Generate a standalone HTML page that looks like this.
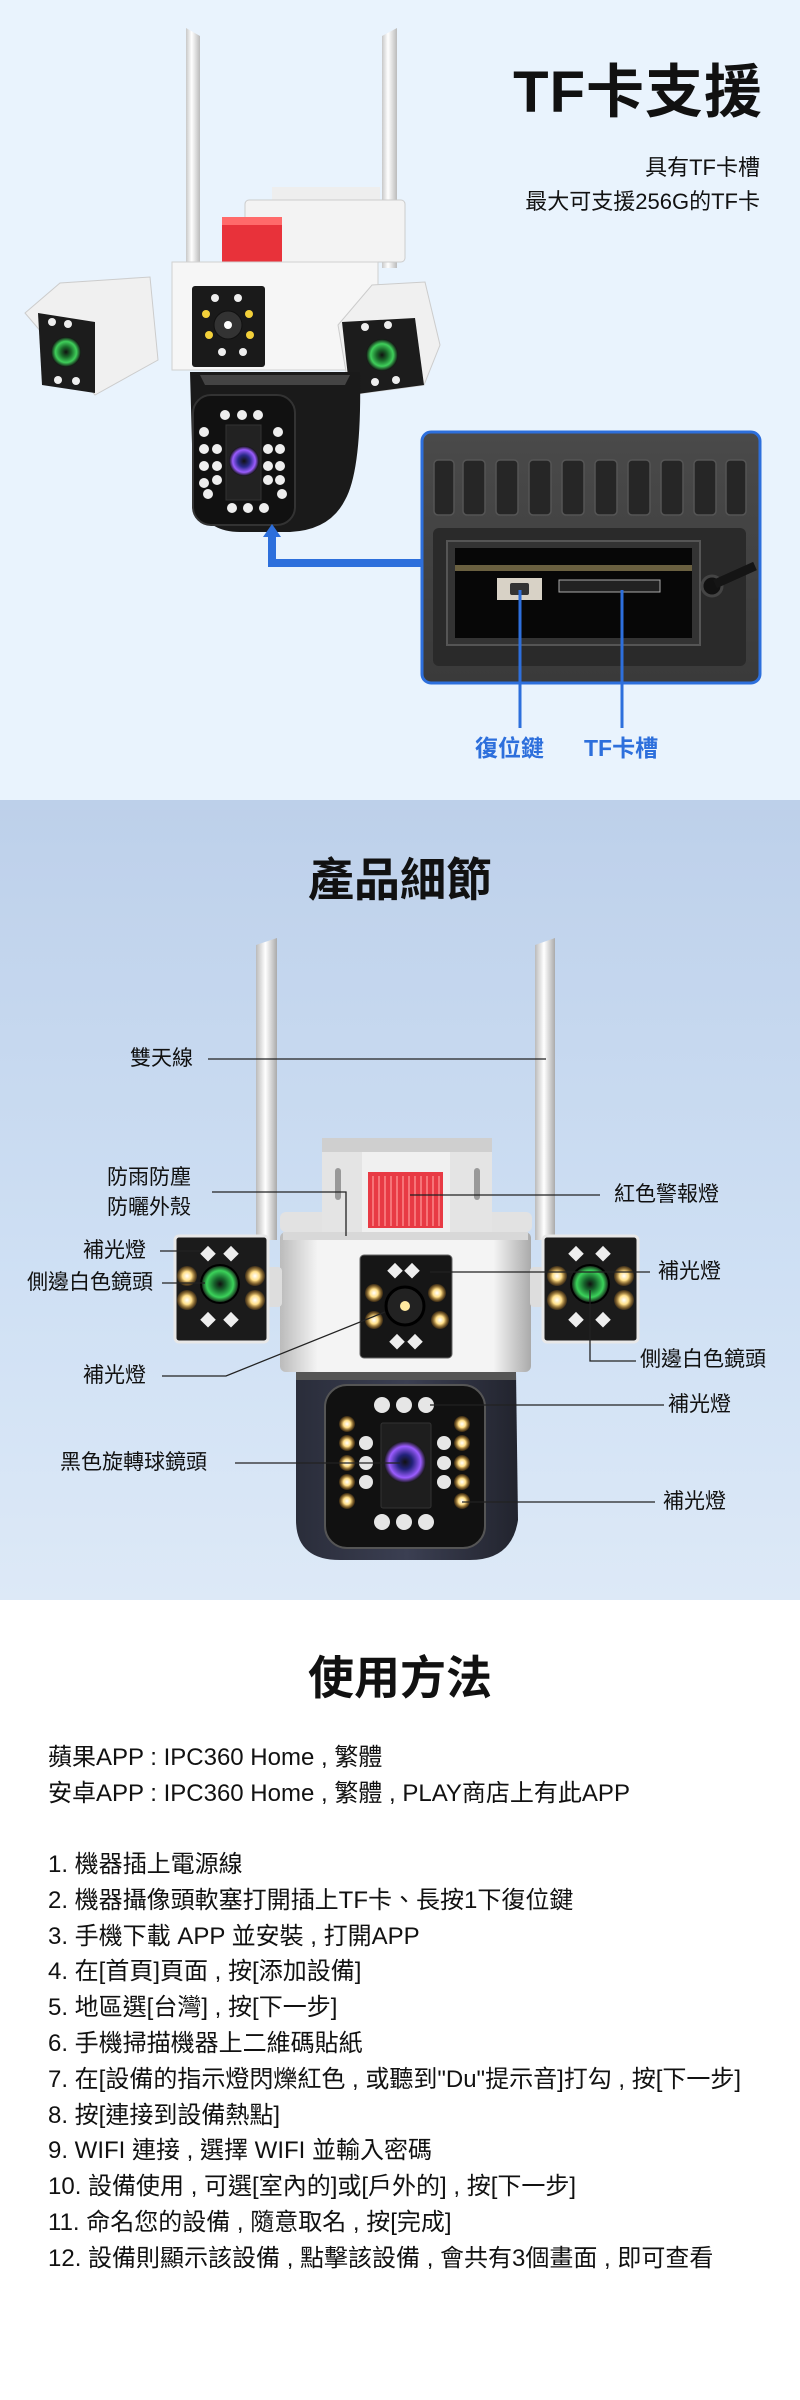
<!DOCTYPE html>
<html><head><meta charset="utf-8">
<style>
*{margin:0;padding:0;box-sizing:border-box}
body{width:800px;height:2400px;overflow:hidden;font-family:"Liberation Sans","Noto Sans CJK TC",sans-serif;color:#111;background:#fff}
.s1{position:absolute;left:0;top:0;width:800px;height:800px;background:#e9f3fd}
.s2{position:absolute;left:0;top:800px;width:800px;height:800px;background:linear-gradient(#bdd0ea,#cfe0f4 60%,#dde9f7)}
.s3{position:absolute;left:0;top:1600px;width:800px;height:800px;background:#fff}
.t{position:absolute;white-space:nowrap}
svg{position:absolute;left:0;top:0}
</style></head><body>

<div class="s1">
<svg width="800" height="800" viewBox="0 0 800 800">
 <defs>
  <linearGradient id="ant" x1="0" x2="1"><stop offset="0" stop-color="#c8c8c8"/><stop offset=".4" stop-color="#fff"/><stop offset="1" stop-color="#bbb"/></linearGradient>
  <linearGradient id="photo" x1="0" y1="0" x2="0" y2="1"><stop offset="0" stop-color="#4a4a4a"/><stop offset="1" stop-color="#3a3a3a"/></linearGradient>
  <radialGradient id="lensG"><stop offset="0" stop-color="#111"/><stop offset=".35" stop-color="#1a6b2a"/><stop offset=".7" stop-color="#3fcf5a"/><stop offset="1" stop-color="#111"/></radialGradient>
  <radialGradient id="lensP"><stop offset="0" stop-color="#111"/><stop offset=".4" stop-color="#2a2a8a"/><stop offset=".75" stop-color="#9a5cff"/><stop offset="1" stop-color="#111"/></radialGradient>
 </defs>
 <path d="M186 28 L200 36 L200 268 L186 268 Z" fill="url(#ant)"/>
 <path d="M382 36 L397 28 L397 268 L382 268 Z" fill="url(#ant)"/>
 <rect x="272" y="187" width="108" height="75" fill="#eee"/>
 <rect x="245" y="200" width="160" height="62" rx="4" fill="#f3f3f3" stroke="#ccc"/>
 <rect x="222" y="217" width="60" height="45" fill="#e8323a"/>
 <rect x="222" y="217" width="60" height="8" fill="#ff6a6a"/>
 <path d="M172 262 L378 262 L378 370 L172 370 Z" fill="#f6f6f6" stroke="#d0d0d0"/>
 <rect x="192" y="286" width="73" height="81" rx="3" fill="#1a1a1a"/>
 <circle cx="228" cy="325" r="14" fill="#333" stroke="#111"/>
 <circle cx="228" cy="325" r="4" fill="#fff"/>
 <g fill="#eee"><circle cx="215" cy="298" r="4"/><circle cx="238" cy="298" r="4"/><circle cx="222" cy="352" r="4"/><circle cx="243" cy="352" r="4"/></g>
 <g fill="#f3d03a"><circle cx="206" cy="314" r="4"/><circle cx="249" cy="314" r="4"/><circle cx="209" cy="335" r="4"/><circle cx="250" cy="335" r="4"/></g>
 <path d="M25 313 L60 283 L150 277 L158 360 L95 395 Z" fill="#f0f0f0" stroke="#ccc"/>
 <path d="M38 313 L95 322 L95 393 L42 385 Z" fill="#1c1c1c"/>
 <circle cx="66" cy="352" r="15" fill="url(#lensG)"/>
 <g fill="#eee"><circle cx="52" cy="322" r="4"/><circle cx="68" cy="324" r="4"/><circle cx="58" cy="380" r="4"/><circle cx="76" cy="381" r="4"/></g>
 <path d="M338 325 L372 285 L425 282 L440 345 L424 385 L350 395 Z" fill="#f0f0f0" stroke="#ccc"/>
 <path d="M342 322 L415 318 L424 385 L350 395 Z" fill="#1c1c1c"/>
 <circle cx="382" cy="355" r="16" fill="url(#lensG)"/>
 <g fill="#eee"><circle cx="365" cy="327" r="4"/><circle cx="388" cy="325" r="4"/><circle cx="375" cy="382" r="4"/><circle cx="396" cy="380" r="4"/></g>
 <path d="M190 372 L360 372 Q362 470 345 500 Q330 530 290 532 L240 532 Q195 532 193 480 Z" fill="#1a1a1a"/>
 <path d="M200 375 L350 375 L345 385 L205 385 Z" fill="#444"/>
 <rect x="193" y="395" width="102" height="130" rx="18" fill="#111" stroke="#333" stroke-width="2"/>
 <rect x="226" y="425" width="35" height="75" fill="#222" stroke="#333"/>
 <circle cx="244" cy="461" r="15" fill="url(#lensP)"/>
 <g fill="#eee">
  <circle cx="225" cy="415" r="5"/><circle cx="242" cy="415" r="5"/><circle cx="258" cy="415" r="5"/>
  <circle cx="232" cy="508" r="5"/><circle cx="248" cy="508" r="5"/><circle cx="264" cy="508" r="5"/>
  <circle cx="204" cy="432" r="5"/><circle cx="204" cy="449" r="5"/><circle cx="204" cy="466" r="5"/><circle cx="204" cy="483" r="5"/><circle cx="208" cy="494" r="5"/>
  <circle cx="217" cy="449" r="5"/><circle cx="217" cy="466" r="5"/><circle cx="217" cy="480" r="5"/>
  <circle cx="278" cy="432" r="5"/><circle cx="280" cy="449" r="5"/><circle cx="280" cy="466" r="5"/><circle cx="280" cy="480" r="5"/><circle cx="282" cy="494" r="5"/>
  <circle cx="268" cy="449" r="5"/><circle cx="268" cy="466" r="5"/><circle cx="268" cy="480" r="5"/>
 </g>
 <path d="M424 563 L272 563 L272 535" fill="none" stroke="#2d6fdc" stroke-width="8"/>
 <path d="M263 537 L272 524 L281 537 Z" fill="#2d6fdc"/>
 <rect x="422" y="432" width="338" height="251" rx="9" fill="url(#photo)" stroke="#2d6fdc" stroke-width="3"/>
 <g fill="#262626" stroke="#555" stroke-width="1.5">
  <rect x="434" y="460" width="20" height="55" rx="4"/><rect x="463" y="460" width="22" height="55" rx="4"/><rect x="496" y="460" width="22" height="55" rx="4"/><rect x="529" y="460" width="22" height="55" rx="4"/><rect x="562" y="460" width="22" height="55" rx="4"/><rect x="595" y="460" width="22" height="55" rx="4"/><rect x="628" y="460" width="22" height="55" rx="4"/><rect x="661" y="460" width="22" height="55" rx="4"/><rect x="694" y="460" width="22" height="55" rx="4"/><rect x="726" y="460" width="20" height="55" rx="4"/>
 </g>
 <rect x="433" y="528" width="313" height="138" rx="6" fill="#2a2a2a"/>
 <rect x="447" y="541" width="253" height="104" fill="#333" stroke="#555" stroke-width="2"/>
 <rect x="455" y="548" width="237" height="90" fill="#070707"/>
 <rect x="455" y="565" width="237" height="6" fill="#6a6040"/>
 <rect x="497" y="578" width="45" height="22" fill="#d8d2c6"/>
 <rect x="510" y="583" width="19" height="12" rx="2" fill="#333"/>
 <rect x="559" y="580" width="101" height="12" fill="#222" stroke="#aaa"/>
 <circle cx="712" cy="586" r="10" fill="#111" stroke="#444" stroke-width="3"/>
 <path d="M715 584 L755 566" stroke="#151515" stroke-width="9"/>
 <line x1="520" y1="590" x2="520" y2="728" stroke="#2d6fdc" stroke-width="3"/>
 <line x1="622" y1="590" x2="622" y2="728" stroke="#2d6fdc" stroke-width="3"/>
</svg>
 <div class="t" style="right:37px;top:58px;font-size:58px;font-weight:bold;letter-spacing:1px;line-height:70px">TF卡支援</div>
 <div class="t" style="right:40px;top:153px;font-size:22px;line-height:30px">具有TF卡槽</div>
 <div class="t" style="right:40px;top:187px;font-size:22px;line-height:30px">最大可支援256G的TF卡</div>
 <div class="t" style="left:475px;top:733px;font-size:23px;font-weight:bold;color:#2d6fdc;line-height:30px">復位鍵</div>
 <div class="t" style="left:584px;top:733px;font-size:23px;font-weight:bold;color:#2d6fdc;line-height:30px">TF卡槽</div>
</div>

<div class="s2">
<svg width="800" height="800" viewBox="0 800 800 800">
 <defs>
  <linearGradient id="ant2" x1="0" x2="1"><stop offset="0" stop-color="#bbb"/><stop offset=".45" stop-color="#fff"/><stop offset="1" stop-color="#aaa"/></linearGradient>
  <linearGradient id="body2" x1="0" x2="1"><stop offset="0" stop-color="#bbb"/><stop offset=".15" stop-color="#f4f4f4"/><stop offset=".85" stop-color="#f4f4f4"/><stop offset="1" stop-color="#aaa"/></linearGradient>
  <linearGradient id="dark2" x1="0" x2="1"><stop offset="0" stop-color="#2a2d3a"/><stop offset=".5" stop-color="#3b3f52"/><stop offset="1" stop-color="#22242e"/></linearGradient>
  <radialGradient id="glow"><stop offset="0" stop-color="#fff"/><stop offset=".45" stop-color="#ffe08a"/><stop offset="1" stop-color="#c8821a" stop-opacity=".2"/></radialGradient>
  <radialGradient id="lensG2"><stop offset="0" stop-color="#111"/><stop offset=".3" stop-color="#16602a"/><stop offset=".7" stop-color="#3bd35a"/><stop offset="1" stop-color="#111"/></radialGradient>
  <radialGradient id="lensP2"><stop offset="0" stop-color="#111"/><stop offset=".35" stop-color="#22227a"/><stop offset=".75" stop-color="#9b5cff"/><stop offset="1" stop-color="#151515"/></radialGradient>
 </defs>
 <path d="M256 945 L277 938 L277 1240 L256 1240 Z" fill="url(#ant2)"/>
 <path d="M535 945 L555 938 L555 1240 L535 1240 Z" fill="url(#ant2)"/>
 <rect x="280" y="1212" width="50" height="20" rx="6" fill="#e2e2e2"/>
 <rect x="482" y="1212" width="50" height="20" rx="6" fill="#e2e2e2"/>
 <rect x="322" y="1138" width="170" height="100" fill="#e4e4e4"/>
 <rect x="322" y="1138" width="170" height="14" fill="#cfcfcf"/>
 <rect x="362" y="1152" width="88" height="86" fill="#f0f0f0"/>
 <rect x="368" y="1172" width="75" height="56" fill="#e83a44"/>
 <g stroke="#ff9a9a" stroke-width="1.2">
  <line x1="373" y1="1176" x2="373" y2="1226"/><line x1="379" y1="1176" x2="379" y2="1226"/><line x1="385" y1="1176" x2="385" y2="1226"/><line x1="391" y1="1176" x2="391" y2="1226"/><line x1="397" y1="1176" x2="397" y2="1226"/><line x1="403" y1="1176" x2="403" y2="1226"/><line x1="409" y1="1176" x2="409" y2="1226"/><line x1="415" y1="1176" x2="415" y2="1226"/><line x1="421" y1="1176" x2="421" y2="1226"/><line x1="427" y1="1176" x2="427" y2="1226"/><line x1="433" y1="1176" x2="433" y2="1226"/><line x1="439" y1="1176" x2="439" y2="1226"/>
 </g>
 <rect x="335" y="1168" width="6" height="32" rx="3" fill="#999"/>
 <rect x="474" y="1168" width="6" height="32" rx="3" fill="#999"/>
 <rect x="280" y="1232" width="251" height="140" rx="6" fill="url(#body2)"/>
 <rect x="283" y="1232" width="245" height="8" fill="#d8d8d8"/>
 <rect x="360" y="1255" width="92" height="103" rx="4" fill="#161616" stroke="#666"/>
 <circle cx="405" cy="1306" r="19" fill="#222" stroke="#000" stroke-width="3"/>
 <circle cx="405" cy="1306" r="5" fill="#ffe9a0"/>
 <g fill="url(#glow)"><circle cx="374" cy="1293" r="9"/><circle cx="437" cy="1293" r="9"/><circle cx="374" cy="1320" r="9"/><circle cx="440" cy="1320" r="9"/></g>
 <g fill="#eee"><rect x="390" y="1265" width="11" height="11" transform="rotate(45 395 1270)"/><rect x="407" y="1265" width="11" height="11" transform="rotate(45 412 1270)"/><rect x="392" y="1336" width="11" height="11" transform="rotate(45 397 1341)"/><rect x="410" y="1336" width="11" height="11" transform="rotate(45 415 1341)"/></g>
 <rect x="266" y="1267" width="16" height="40" rx="4" fill="#ddd"/>
 <rect x="530" y="1267" width="16" height="40" rx="4" fill="#ddd"/>
 <rect x="175" y="1236" width="93" height="106" rx="4" fill="#1b1b1b" stroke="#e8e8e8" stroke-width="3"/>
 <circle cx="220" cy="1284" r="19" fill="url(#lensG2)" stroke="#000" stroke-width="2"/>
 <g fill="url(#glow)"><circle cx="187" cy="1276" r="10"/><circle cx="255" cy="1276" r="10"/><circle cx="187" cy="1300" r="10"/><circle cx="255" cy="1300" r="10"/></g>
 <g fill="#eee"><rect x="203" y="1248" width="11" height="11" transform="rotate(45 208 1253)"/><rect x="226" y="1248" width="11" height="11" transform="rotate(45 231 1253)"/><rect x="203" y="1314" width="11" height="11" transform="rotate(45 208 1319)"/><rect x="226" y="1314" width="11" height="11" transform="rotate(45 231 1319)"/></g>
 <rect x="543" y="1236" width="95" height="106" rx="4" fill="#1b1b1b" stroke="#e8e8e8" stroke-width="3"/>
 <circle cx="590" cy="1284" r="19" fill="url(#lensG2)" stroke="#000" stroke-width="2"/>
 <g fill="url(#glow)"><circle cx="557" cy="1276" r="10"/><circle cx="624" cy="1276" r="10"/><circle cx="557" cy="1300" r="10"/><circle cx="624" cy="1300" r="10"/></g>
 <g fill="#eee"><rect x="571" y="1248" width="11" height="11" transform="rotate(45 576 1253)"/><rect x="598" y="1248" width="11" height="11" transform="rotate(45 603 1253)"/><rect x="571" y="1314" width="11" height="11" transform="rotate(45 576 1319)"/><rect x="598" y="1314" width="11" height="11" transform="rotate(45 603 1319)"/></g>
 <path d="M296 1372 L516 1372 L518 1520 Q512 1560 470 1560 L340 1560 Q296 1560 296 1520 Z" fill="url(#dark2)"/>
 <rect x="296" y="1372" width="220" height="8" fill="#555"/>
 <rect x="325" y="1385" width="160" height="163" rx="22" fill="#111" stroke="#555" stroke-width="2"/>
 <rect x="381" y="1423" width="50" height="85" rx="2" fill="#1e1e1e" stroke="#333"/>
 <circle cx="405" cy="1462" r="21" fill="url(#lensP2)"/>
 <g fill="url(#glow)">
  <circle cx="347" cy="1424" r="8"/><circle cx="347" cy="1443" r="8"/><circle cx="347" cy="1463" r="8"/><circle cx="347" cy="1482" r="8"/><circle cx="347" cy="1501" r="8"/>
  <circle cx="462" cy="1424" r="8"/><circle cx="462" cy="1443" r="8"/><circle cx="462" cy="1463" r="8"/><circle cx="462" cy="1482" r="8"/><circle cx="462" cy="1501" r="8"/>
 </g>
 <g fill="#e6e6e6">
  <circle cx="382" cy="1405" r="8"/><circle cx="404" cy="1405" r="8"/><circle cx="426" cy="1405" r="8"/>
  <circle cx="382" cy="1522" r="8"/><circle cx="404" cy="1522" r="8"/><circle cx="426" cy="1522" r="8"/>
  <circle cx="366" cy="1443" r="7"/><circle cx="366" cy="1463" r="7"/><circle cx="366" cy="1482" r="7"/>
  <circle cx="444" cy="1443" r="7"/><circle cx="444" cy="1463" r="7"/><circle cx="444" cy="1482" r="7"/>
 </g>
 <g stroke="#222" stroke-width="1.3" fill="none">
  <line x1="208" y1="1059" x2="546" y2="1059"/>
  <polyline points="212,1192 346,1192 346,1236"/>
  <line x1="160" y1="1251" x2="200" y2="1251"/>
  <line x1="162" y1="1283" x2="205" y2="1283"/>
  <polyline points="162,1376 226,1376 385,1312"/>
  <line x1="235" y1="1463" x2="400" y2="1463"/>
  <line x1="410" y1="1195" x2="600" y2="1195"/>
  <line x1="430" y1="1272" x2="650" y2="1272"/>
  <polyline points="590,1290 590,1361 636,1361"/>
  <line x1="430" y1="1405" x2="664" y2="1405"/>
  <line x1="462" y1="1502" x2="655" y2="1502"/>
 </g>
</svg>
 <div class="t" style="left:0;width:800px;text-align:center;top:50px;font-size:46px;font-weight:bold;line-height:60px">產品細節</div>
 <div class="t" style="left:130px;top:244px;font-size:21px;line-height:30px">雙天線</div>
 <div class="t" style="left:107px;top:363px;font-size:21px;line-height:30px">防雨防塵<br>防曬外殼</div>
 <div class="t" style="left:83px;top:436px;font-size:21px;line-height:30px">補光燈</div>
 <div class="t" style="left:27px;top:468px;font-size:21px;line-height:30px">側邊白色鏡頭</div>
 <div class="t" style="left:83px;top:561px;font-size:21px;line-height:30px">補光燈</div>
 <div class="t" style="left:60px;top:648px;font-size:21px;line-height:30px">黑色旋轉球鏡頭</div>
 <div class="t" style="left:614px;top:380px;font-size:21px;line-height:30px">紅色警報燈</div>
 <div class="t" style="left:658px;top:457px;font-size:21px;line-height:30px">補光燈</div>
 <div class="t" style="left:640px;top:545px;font-size:21px;line-height:30px">側邊白色鏡頭</div>
 <div class="t" style="left:668px;top:590px;font-size:21px;line-height:30px">補光燈</div>
 <div class="t" style="left:663px;top:687px;font-size:21px;line-height:30px">補光燈</div>
</div>

<div class="s3">
 <div class="t" style="left:0;width:800px;text-align:center;top:48px;font-size:46px;font-weight:bold;line-height:60px">使用方法</div>
 <div class="t" style="left:48px;top:140px;font-size:24px;line-height:35.8px">蘋果APP : IPC360 Home , 繁體<br>安卓APP : IPC360 Home , 繁體 , PLAY商店上有此APP</div>
 <div class="t" style="left:48px;top:247px;font-size:24px;line-height:35.8px">1. 機器插上電源線<br>2. 機器攝像頭軟塞打開插上TF卡、長按1下復位鍵<br>3. 手機下載 APP 並安裝 , 打開APP<br>4. 在[首頁]頁面 , 按[添加設備]<br>5. 地區選[台灣] , 按[下一步]<br>6. 手機掃描機器上二維碼貼紙<br>7. 在[設備的指示燈閃爍紅色 , 或聽到"Du"提示音]打勾 , 按[下一步]<br>8. 按[連接到設備熱點]<br>9. WIFI 連接 , 選擇 WIFI 並輸入密碼<br>10. 設備使用 , 可選[室內的]或[戶外的] , 按[下一步]<br>11. 命名您的設備 , 隨意取名 , 按[完成]<br>12. 設備則顯示該設備 , 點擊該設備 , 會共有3個畫面 , 即可查看</div>
</div>
</body></html>
